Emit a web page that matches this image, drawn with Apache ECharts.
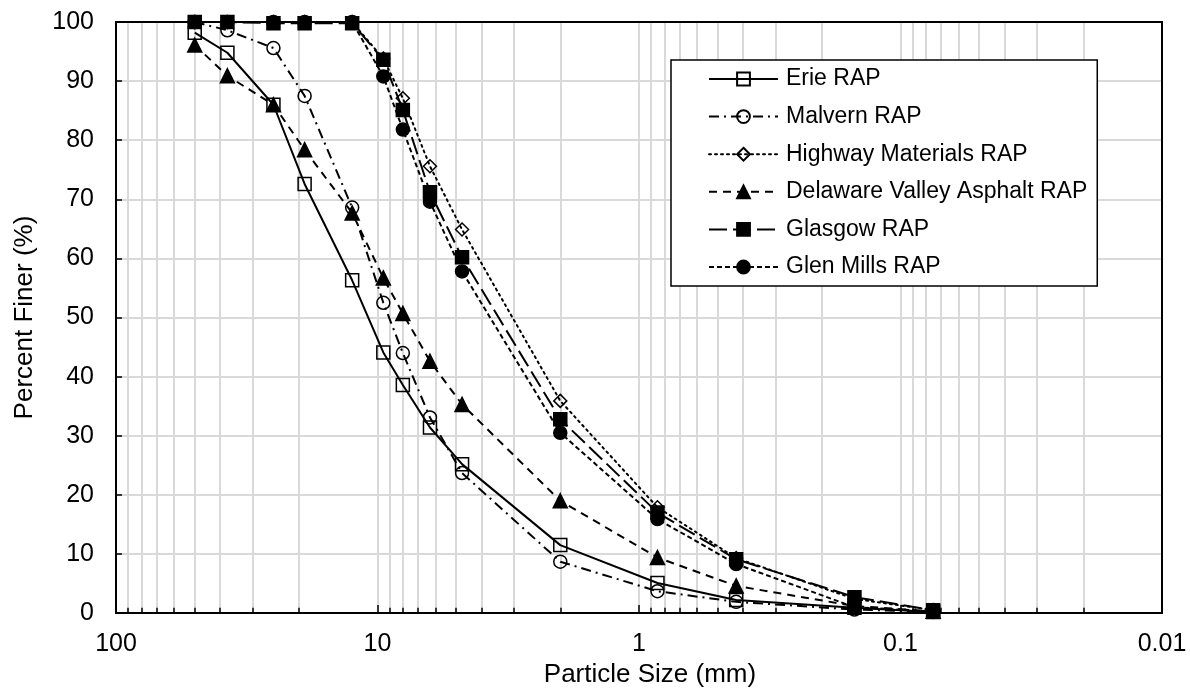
<!DOCTYPE html>
<html>
<head>
<meta charset="utf-8">
<script src="https://cdn.jsdelivr.net/npm/echarts@6/dist/echarts.min.js"></script>
<style>
html,body{margin:0;padding:0;background:#fff;}
#chart{width:1190px;height:693px;}
</style>
</head>
<body>
<div id="chart"></div>
<script>
// Sieve sizes (mm)
var sieveSizes = [50, 37.5, 25, 19, 12.5, 9.5, 8, 6.3, 4.75, 2.0, 0.85, 0.425, 0.15, 0.075];
// Percent finer per source
var erieRAP      = [98.2, 94.8, 86.0, 72.6, 56.3, 44.1, 38.6, 31.4, 25.2, 11.5, 5.1, 2.2, 0.9, 0.2];
var malvernRAP   = [100, 98.6, 95.6, 87.5, 68.6, 52.5, 44.0, 33.1, 23.7, 8.7, 3.7, 1.9, 0.6, 0.2];
var highwayRAP   = [100, 100, 100, 100, 100, 93.8, 87.1, 75.6, 64.9, 35.9, 17.9, 9.3, 2.4, 0.5];
var delawareRAP  = [96.1, 90.9, 86.0, 78.4, 67.7, 56.7, 50.7, 42.6, 35.3, 19.0, 9.4, 4.6, 1.2, 0.3];
var glasgowRAP   = [100, 100, 99.8, 99.8, 99.8, 93.6, 85.1, 71.2, 60.2, 32.8, 17.0, 9.1, 2.7, 0.5];
var glenMillsRAP = [100, 100, 100, 100, 100, 90.8, 81.8, 69.6, 57.8, 30.5, 15.9, 8.3, 1.0, 0.3];
var seriesNames = ['Erie RAP', 'Malvern RAP', 'Highway Materials RAP', 'Delaware Valley Asphalt RAP', 'Glasgow RAP', 'Glen Mills RAP'];
var xTickValues = [100, 10, 1, 0.1, 0.01];
var yTickValues = [0, 10, 20, 30, 40, 50, 60, 70, 80, 90, 100];

var FONT = "'Liberation Sans', Arial, sans-serif";

function pairs(vals) {
  return sieveSizes.map(function (s, i) { return [s, vals[i]]; });
}

// minor log positions (2..9 x decades)
var minorVals = [];
[-2, -1, 0, 1].forEach(function (d) {
  for (var k = 2; k <= 9; k++) minorVals.push(+(k * Math.pow(10, d)).toPrecision(3));
});

var styles = [
  { data: erieRAP, symbol: 'rect', size: 13, fill: 'rgba(255,255,255,0)', dash: 'solid' },
  { data: malvernRAP, symbol: 'circle', size: 13, fill: 'rgba(255,255,255,0)', dash: [10, 5, 2, 5] },
  { data: highwayRAP, symbol: 'diamond', size: 13, fill: 'rgba(255,255,255,0)', dash: [2, 4] },
  { data: delawareRAP, symbol: 'triangle', size: 14, fill: '#000', dash: [8, 6] },
  { data: glasgowRAP, symbol: 'rect', size: 13, fill: '#000', dash: [18, 6] },
  { data: glenMillsRAP, symbol: 'circle', size: 13, fill: '#000', dash: [5, 3] }
];

var series = styles.map(function (st, i) {
  return {
    name: seriesNames[i],
    type: 'line',
    data: pairs(st.data),
    symbol: st.symbol,
    symbolSize: st.size,
    showSymbol: true,
    z: 5,
    lineStyle: { color: '#000', width: 2, type: st.dash, cap: i === 2 ? 'round' : 'butt' },
    itemStyle: { color: st.fill, borderColor: '#000', borderWidth: 1.5 },
    emphasis: { disabled: true }
  };
});

// helper series for minor gridlines and minor ticks
series.unshift({
  name: '_minor',
  type: 'line',
  data: [],
  z: 1,
  silent: true,
  markLine: {
    silent: true,
    symbol: ['none', 'none'],
    label: { show: false },
    animation: false,
    data: minorVals.map(function (v) {
      return { xAxis: v, lineStyle: { color: '#d9d9d9', width: 2, type: 'solid' } };
    }).concat(minorVals.map(function (v) {
      return [
        { coord: [v, 0], lineStyle: { color: '#000', width: 1.5, type: 'solid' } },
        { coord: [v, 0.9] }
      ];
    }))
  }
});

var option = {
  animation: false,
  backgroundColor: '#fff',
  textStyle: { fontFamily: FONT },
  grid: { left: 116, right: 28, top: 22, bottom: 79, show: true, z: 10, borderColor: '#000', borderWidth: 2, backgroundColor: 'transparent' },
  legend: {
    data: seriesNames,
    orient: 'vertical',
    left: 671,
    top: 60,
    z: 100,
    backgroundColor: '#fff',
    borderColor: '#000',
    borderWidth: 1.5,
    padding: [6, 10, 6, 37],
    itemWidth: 69,
    itemHeight: 16,
    itemGap: 11.6,
    selectedMode: false,
    textStyle: { fontFamily: FONT, fontSize: 23, color: '#000', lineHeight: 26, padding: [0, 0, 0, 3] }
  },
  xAxis: {
    type: 'log',
    logBase: 10,
    min: 0.01,
    max: 100,
    inverse: true,
    name: 'Particle Size (mm)',
    nameLocation: 'middle',
    nameGap: 46,
    nameTextStyle: { fontFamily: FONT, fontSize: 26, color: '#000', padding: [0, 0, 0, 22] },
    axisLine: { show: true, onZero: false, lineStyle: { color: '#000', width: 2 } },
    axisTick: { show: true, inside: true, length: 8, lineStyle: { color: '#000', width: 1.5 } },
    axisLabel: {
      fontFamily: FONT, fontSize: 25, color: '#000', margin: 19,
      formatter: function (v) { return String(+(+v).toPrecision(3)); }
    },
    splitLine: { show: true, lineStyle: { color: '#d9d9d9', width: 2 } }
  },
  yAxis: {
    type: 'value',
    min: 0,
    max: 100,
    interval: 10,
    name: 'Percent Finer (%)',
    nameLocation: 'middle',
    nameGap: 78,
    nameTextStyle: { fontFamily: FONT, fontSize: 26, color: '#000' },
    axisLine: { show: true, lineStyle: { color: '#000', width: 2 } },
    axisTick: { show: true, inside: true, length: 6, lineStyle: { color: '#000', width: 1.5 } },
    axisLabel: { fontFamily: FONT, fontSize: 25, color: '#000', margin: 22 },
    splitLine: { show: true, lineStyle: { color: '#d9d9d9', width: 2 } }
  },
  series: series
};

var chart = echarts.init(document.getElementById('chart'), null, { renderer: 'canvas' });
chart.setOption(option);
</script>
</body>
</html>
